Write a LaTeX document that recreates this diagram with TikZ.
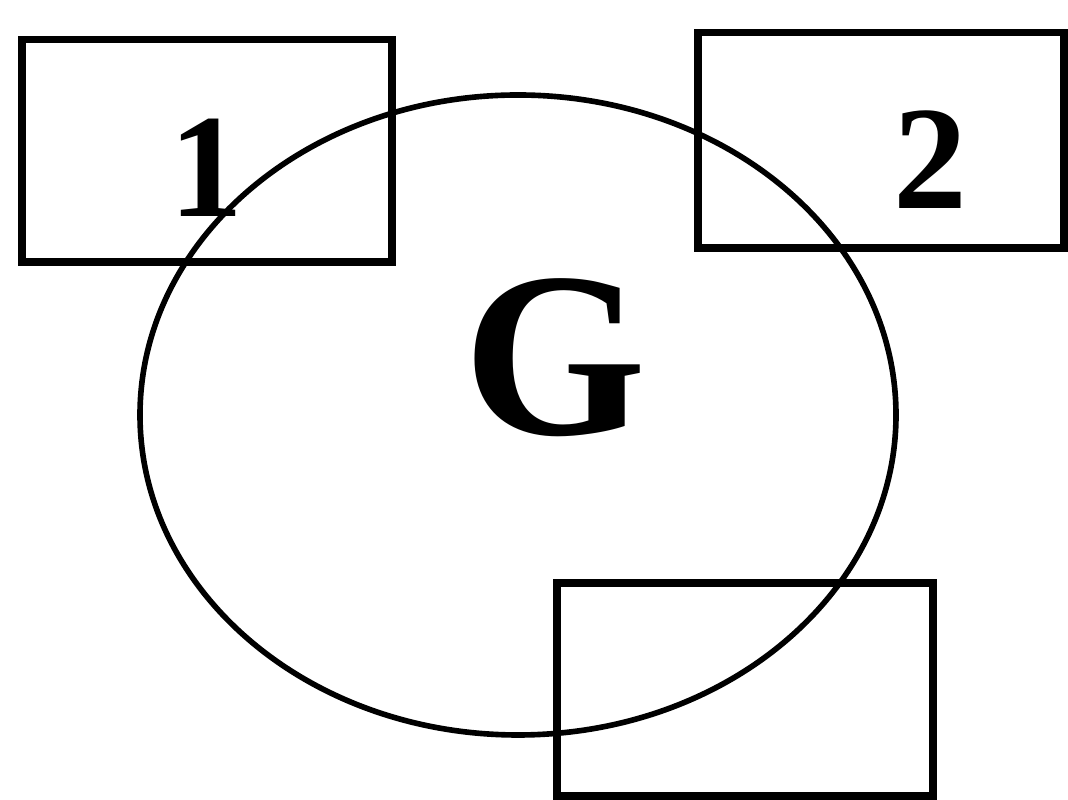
\documentclass[tikz,border=0pt]{standalone}
\usepackage{fontspec}
\setmainfont{Liberation Serif}
\usepackage{tikz}
\usetikzlibrary{shapes,positioning}

\begin{document}
\begin{tikzpicture}[
    box/.style={draw, line width=2pt, minimum width=3.7cm, minimum height=2.2cm, inner sep=0pt},
    lbl/.style={font=\fontsize{42}{42}\selectfont\bfseries, inner sep=0pt}
]
\useasboundingbox (0,0) rectangle (10.68,8);
% Ellipse
\node[draw, ellipse, line width=1.6pt, minimum width=7.56cm, minimum height=6.4cm, inner sep=0pt] (ring) at (5.18,3.85) {};
\node[font=\fontsize{67}{67}\selectfont\bfseries, inner sep=0pt] (g) at (5.55,4.42) {G};

% Boxes
\node[box, minimum width=3.70cm, minimum height=2.22cm] (box1) at (2.07,6.49) {};
\node[lbl] (one) at (2.06,6.32) {1};

\node[box, minimum width=3.66cm, minimum height=2.15cm] (box2) at (8.81,6.595) {};
\node[lbl] (two) at (9.30,6.40) {2};

\node[box, minimum width=3.76cm, minimum height=2.13cm] (box3) at (7.45,1.105) {};
\end{tikzpicture}
\end{document}
